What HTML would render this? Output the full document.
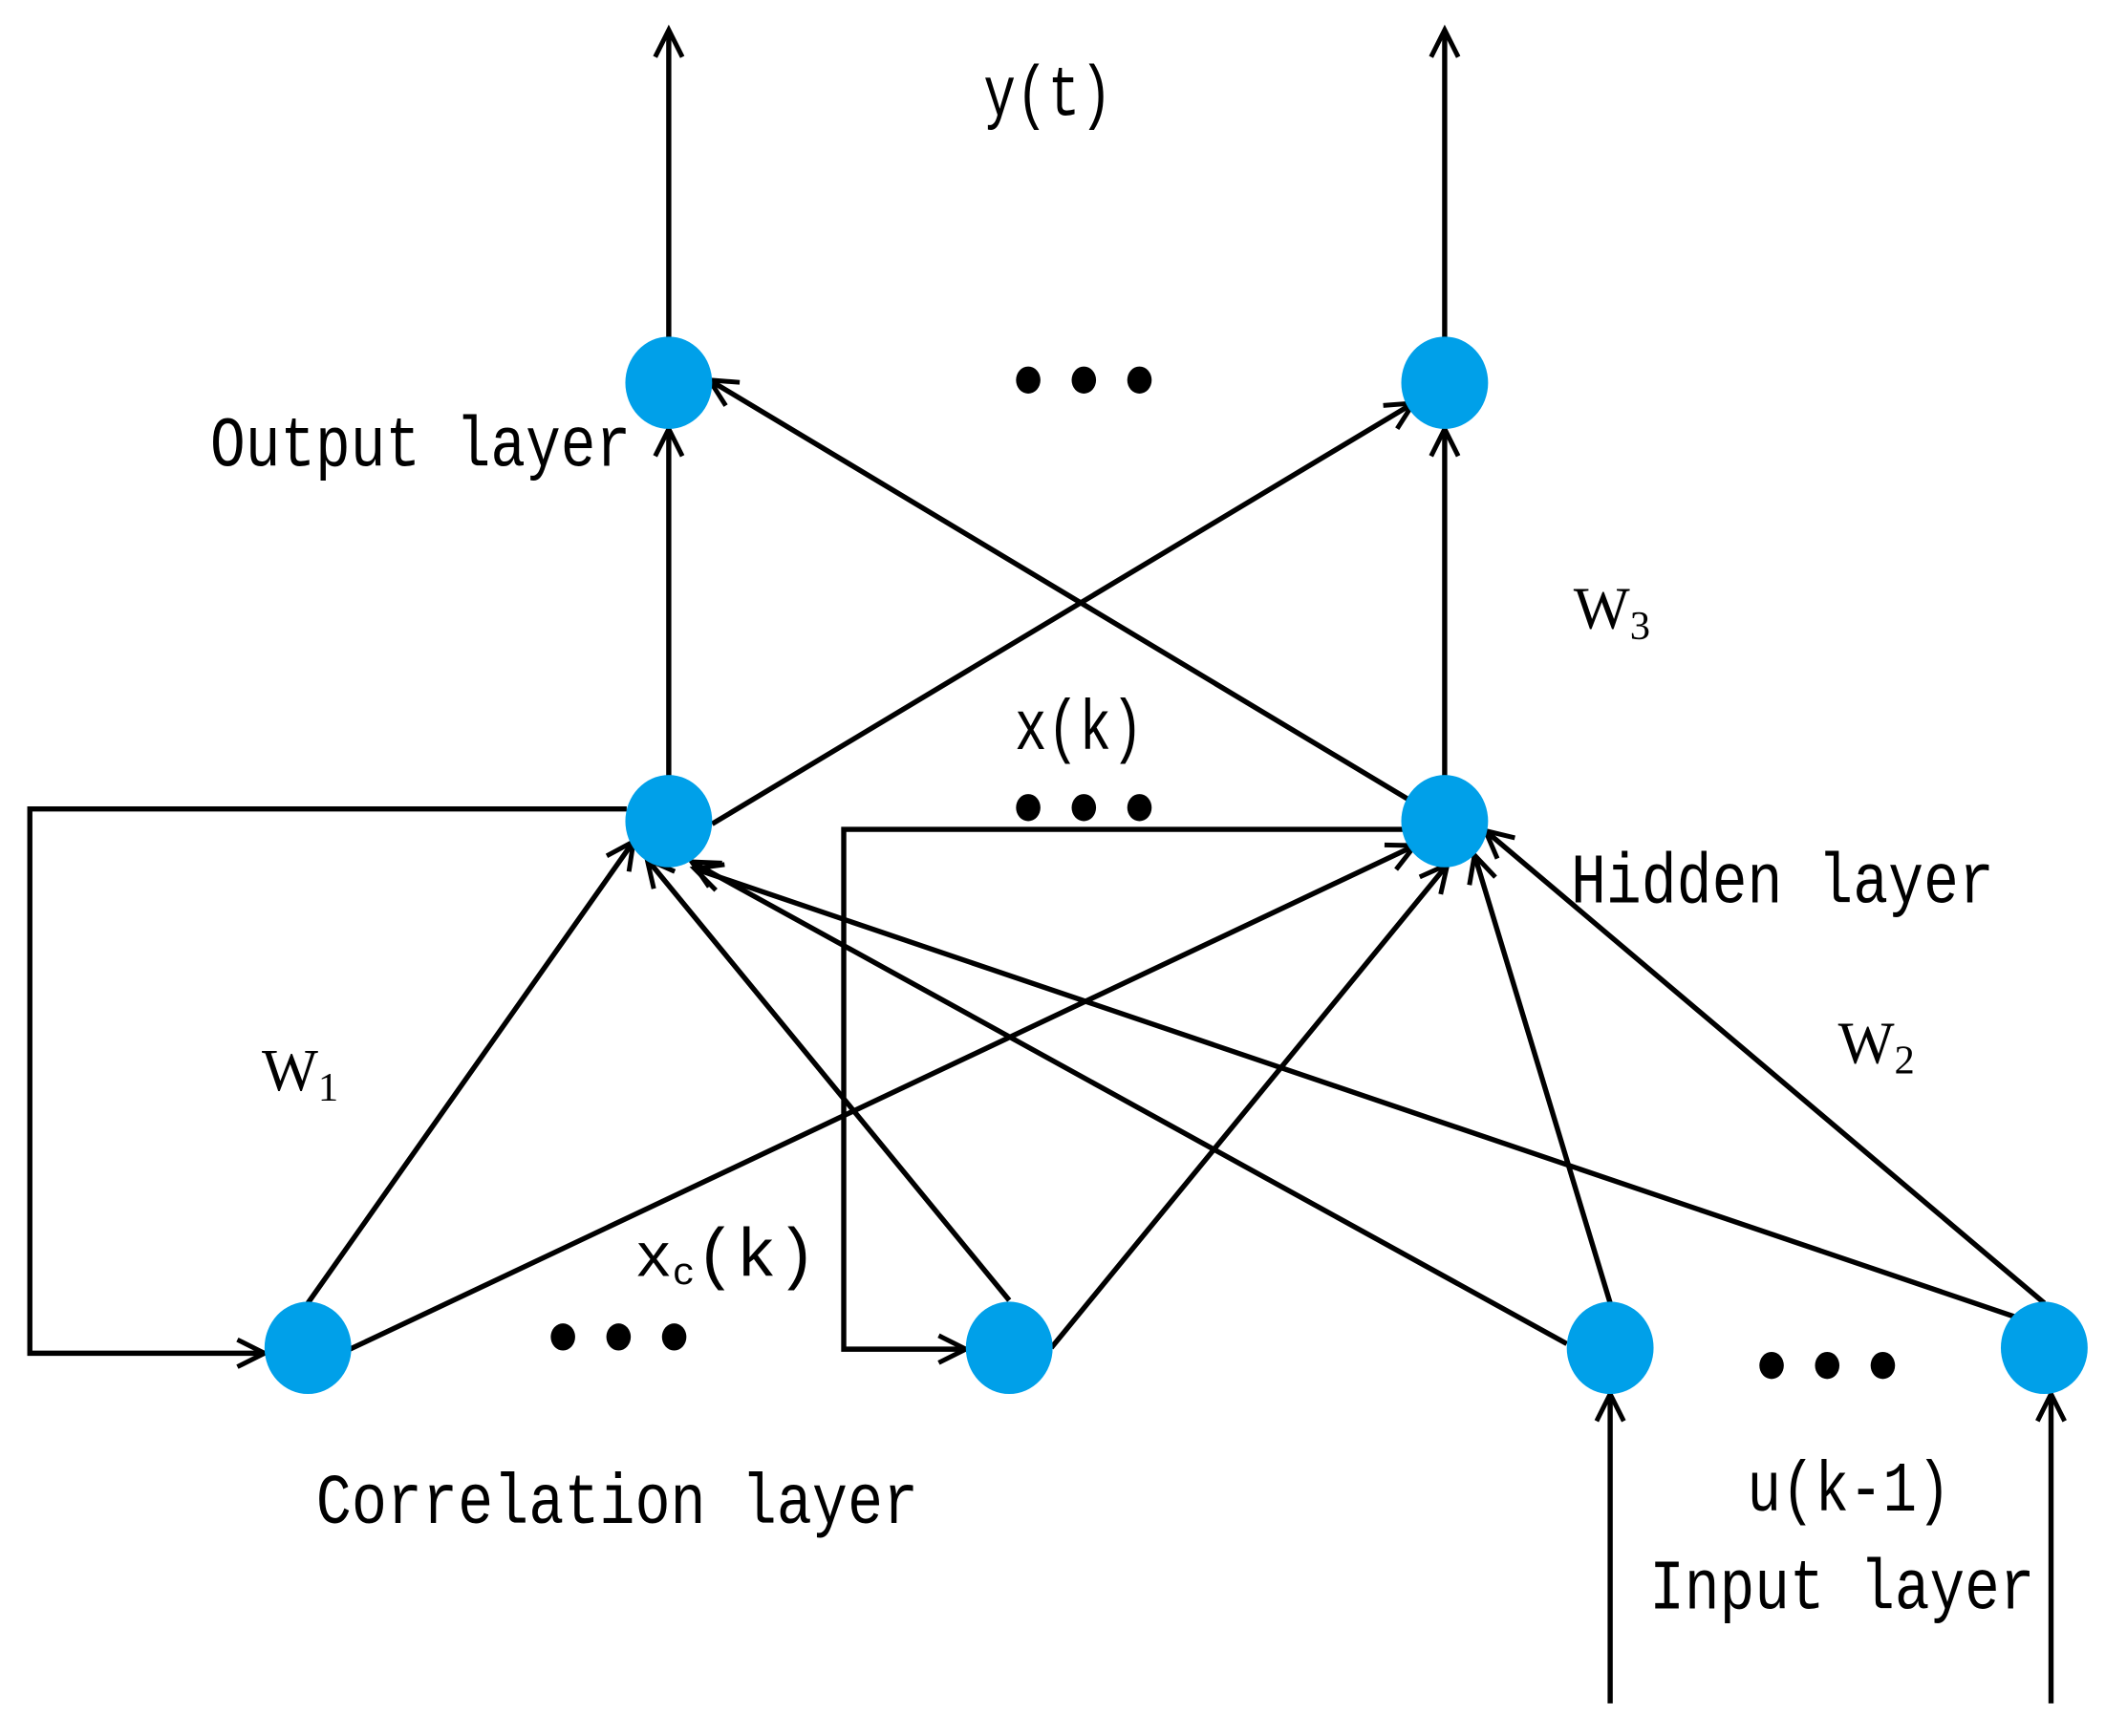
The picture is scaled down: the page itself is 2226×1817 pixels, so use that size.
<!DOCTYPE html>
<html><head><meta charset="utf-8"><style>html,body{margin:0;padding:0;background:#fff}svg{display:block}</style></head>
<body>
<svg width="2226" height="1817" viewBox="0 0 1568 1279" preserveAspectRatio="none" xmlns="http://www.w3.org/2000/svg">
<defs>
<marker id="a" markerWidth="30" markerHeight="30" refX="22" refY="12" orient="auto" markerUnits="userSpaceOnUse" viewBox="0 0 30 24">
<path d="M2,2 L22,12 L2,22" fill="none" stroke="#000" stroke-width="3.5"/>
</marker>
</defs>
<g stroke="#000" stroke-width="3.8" fill="none">
<line x1="493" y1="250" x2="493" y2="22" marker-end="url(#a)"/>
<line x1="1065" y1="250" x2="1065" y2="22" marker-end="url(#a)"/>
<line x1="493" y1="573" x2="493" y2="316" marker-end="url(#a)"/>
<line x1="1065" y1="573" x2="1065" y2="316" marker-end="url(#a)"/>
<line x1="525" y1="607" x2="1042" y2="297" marker-end="url(#a)"/>
<line x1="1040" y1="590" x2="523" y2="280" marker-end="url(#a)"/>
<polyline points="462,596 22,596 22,997 195,997" marker-end="url(#a)"/>
<polyline points="1035,611 622,611 622,994 712,994" marker-end="url(#a)"/>
<line x1="227" y1="960" x2="467" y2="620" marker-end="url(#a)"/>
<line x1="258" y1="994" x2="1043" y2="623" marker-end="url(#a)"/>
<line x1="744" y1="958" x2="477" y2="633" marker-end="url(#a)"/>
<line x1="775" y1="993" x2="1067" y2="637" marker-end="url(#a)"/>
<line x1="1155" y1="990" x2="510" y2="635" marker-end="url(#a)"/>
<line x1="1187" y1="960" x2="1087" y2="630" marker-end="url(#a)"/>
<line x1="1485" y1="970" x2="512" y2="640" marker-end="url(#a)"/>
<line x1="1507" y1="960" x2="1095" y2="612" marker-end="url(#a)"/>
<line x1="1187" y1="1255" x2="1187" y2="1027" marker-end="url(#a)"/>
<line x1="1512" y1="1255" x2="1512" y2="1027" marker-end="url(#a)"/>
</g>
<g fill="#00a0e9">
<ellipse cx="493" cy="282" rx="32" ry="34"/>
<ellipse cx="1065" cy="282" rx="32" ry="34"/>
<ellipse cx="493" cy="605" rx="32" ry="34"/>
<ellipse cx="1065" cy="605" rx="32" ry="34"/>
<ellipse cx="227" cy="993" rx="32" ry="34"/>
<ellipse cx="744" cy="993" rx="32" ry="34"/>
<ellipse cx="1187" cy="993" rx="32" ry="34"/>
<ellipse cx="1507" cy="993" rx="32" ry="34"/>
</g>
<g fill="#000">
<ellipse cx="758" cy="280" rx="9" ry="10"/><ellipse cx="799" cy="280" rx="9" ry="10"/><ellipse cx="840" cy="280" rx="9" ry="10"/>
<ellipse cx="758" cy="595" rx="9" ry="10"/><ellipse cx="799" cy="595" rx="9" ry="10"/><ellipse cx="840" cy="595" rx="9" ry="10"/>
<ellipse cx="415" cy="985" rx="9" ry="10"/><ellipse cx="456" cy="985" rx="9" ry="10"/><ellipse cx="497" cy="985" rx="9" ry="10"/>
<ellipse cx="1306" cy="1006" rx="9" ry="10"/><ellipse cx="1347" cy="1006" rx="9" ry="10"/><ellipse cx="1388" cy="1006" rx="9" ry="10"/>
</g>
<g font-family="Liberation Mono, monospace" font-size="52" fill="#000">
<text x="725" y="85" textLength="95" lengthAdjust="spacingAndGlyphs">y(t)</text>
<text x="155" y="343" textLength="310" lengthAdjust="spacingAndGlyphs">Output layer</text>
<text x="1160" y="463" font-size="44" font-family="Liberation Serif, serif">W<tspan font-size="30" dy="8">3</tspan></text>
<text x="748" y="552" textLength="95" lengthAdjust="spacingAndGlyphs">x(k)</text>
<text x="1158" y="665" textLength="312" lengthAdjust="spacingAndGlyphs">Hidden layer</text>
<text x="1355" y="783" font-size="44" font-family="Liberation Serif, serif">W<tspan font-size="30" dy="8">2</tspan></text>
<text x="193" y="803" font-size="44" font-family="Liberation Serif, serif">W<tspan font-size="30" dy="8">1</tspan></text>
<text x="468" y="940" font-size="46">x<tspan font-size="28" dy="6">c</tspan><tspan dy="-6" font-size="50">(k)</tspan></text>
<text x="233" y="1122" textLength="444" lengthAdjust="spacingAndGlyphs">Correlation layer</text>
<text x="1288" y="1113" textLength="150" lengthAdjust="spacingAndGlyphs">u(k-1)</text>
<text x="1216" y="1185" textLength="284" lengthAdjust="spacingAndGlyphs">Input layer</text>
</g>
</svg>
</body></html>
